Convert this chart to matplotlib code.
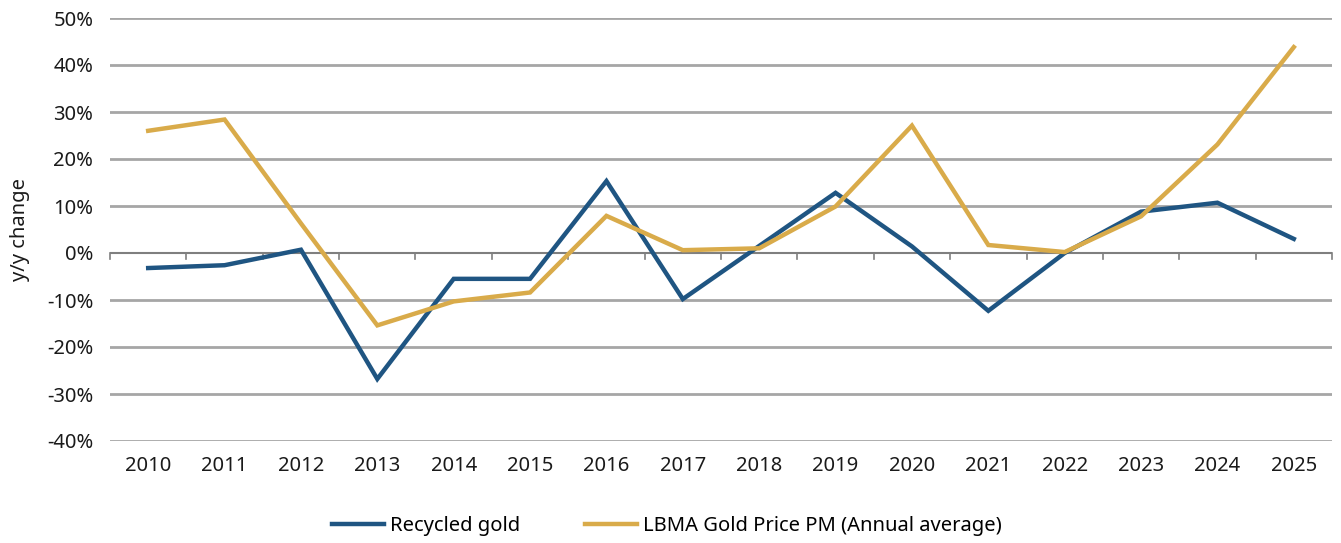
import matplotlib
matplotlib.use("Agg")
import matplotlib.pyplot as plt
from matplotlib.ticker import FuncFormatter

plt.rcParams['font.family'] = ['Noto Sans', 'DejaVu Sans']

years = ["2010", "2011", "2012", "2013", "2014", "2015", "2016", "2017",
         "2018", "2019", "2020", "2021", "2022", "2023", "2024", "2025"]
recycled_gold = [-3.2, -2.6, 0.7, -26.8, -5.5, -5.5, 15.3, -9.8,
                 1.5, 12.8, 1.4, -12.3, 0.0, 8.8, 10.7, 3.0]
lbma_price = [26.0, 28.4, 6.3, -15.4, -10.3, -8.4, 7.9, 0.6,
              1.0, 9.9, 27.1, 1.7, 0.2, 7.8, 23.1, 43.8]

c_blue = "#1f5582"
c_gold = "#d9ab4a"
fs = 14.5

fig = plt.figure(figsize=(13.41, 5.43), dpi=100)
ax = fig.add_axes([110/1341, 1-441/543, 1222/1341, 423/543])

x = list(range(len(years)))
ax.plot(x, recycled_gold, color=c_blue, lw=3.2, label="Recycled gold", solid_joinstyle='miter', zorder=3)
ax.plot(x, lbma_price, color=c_gold, lw=3.2, label="LBMA Gold Price PM (Annual average)", solid_joinstyle='miter', zorder=3)

ax.set_xlim(-0.5, len(years) - 0.5)
ax.set_ylim(-40, 50)
ax.set_yticks(range(-40, 51, 10))
ax.yaxis.set_major_formatter(FuncFormatter(lambda v, p: f"{int(v)}%"))
for v in range(-40, 51, 10):
    if v != 0:
        ax.axhline(v, color="#a6a6a6", lw=2, zorder=1)
ax.axhline(0, color="#7f7f7f", lw=1.5, zorder=2)

ax.set_xticks(x)
ax.set_xticklabels(years)
ax.tick_params(axis='x', length=0, pad=11, labelsize=fs, colors="#1a1a1a")
ax.tick_params(axis='y', length=0, pad=12, labelsize=fs, colors="#1a1a1a")
for b in range(len(years) + 1):
    ax.plot([b - 0.5, b - 0.5], [0, -1.3], color="#7f7f7f", lw=1.2, zorder=2, clip_on=False)

for s in ax.spines.values():
    s.set_visible(False)

ax.set_ylabel("y/y change", fontsize=fs, color="#1a1a1a", labelpad=12)

fig.legend(loc="center", bbox_to_anchor=(667/1341, 1-526/543), ncol=2, frameon=False,
           fontsize=fs, handlelength=2.6, columnspacing=3.2, handletextpad=0.3)

fig.savefig("out.png", dpi=100)
